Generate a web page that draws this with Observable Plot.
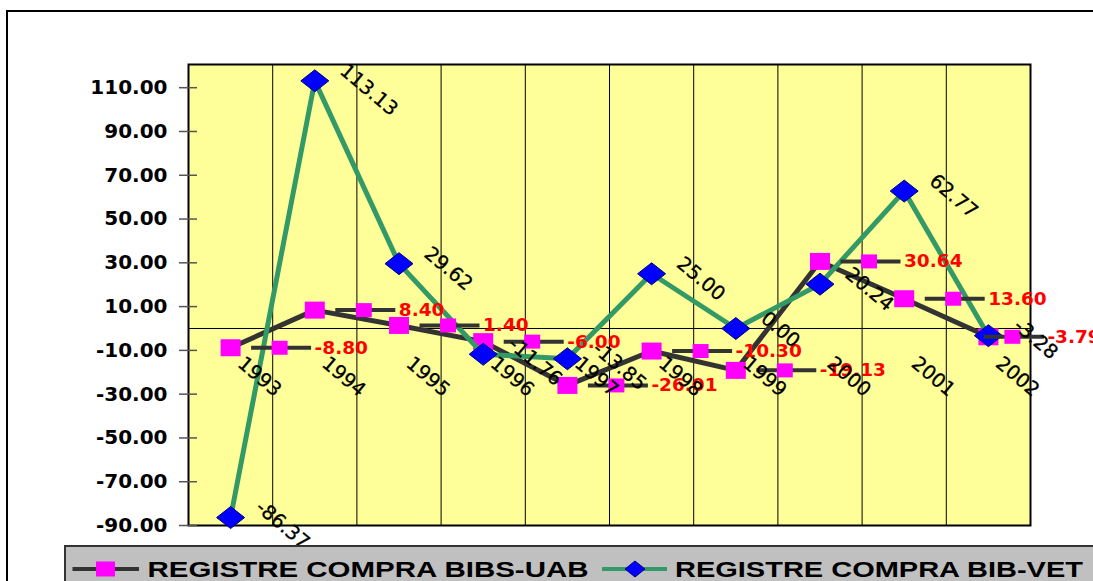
<!DOCTYPE html>
<html><head><meta charset="utf-8">
<script src="https://cdn.jsdelivr.net/npm/d3@7"></script>
<script src="https://cdn.jsdelivr.net/npm/@observablehq/plot@0.6"></script>
<style>
html,body{margin:0;padding:0;background:#fff;overflow:hidden;}
#wrap{position:relative;width:1093px;height:581px;overflow:hidden;}
#border{position:absolute;left:6px;top:10px;width:1200px;height:700px;border:2px solid #000;box-sizing:border-box;}
#chart{position:absolute;left:0;top:0;}
#legend{position:absolute;left:64px;top:545px;width:1100px;height:60px;background:#C0C0C0;border:2px solid #333;box-sizing:border-box;}
</style></head><body>
<div id="wrap"><div id="border"></div><div id="chart"></div><div id="legend"></div></div>
<script>
const years = [1993, 1994, 1995, 1996, 1997, 1998, 1999, 2000, 2001, 2002];
const bibsUab = [-8.80, 8.40, 1.40, -6.00, -26.01, -10.30, -19.13, 30.64, 13.60, -3.79];
const bibVet = [-86.37, 113.13, 29.62, -11.76, -13.85, 25.00, 0.00, 20.24, 62.77, -3.28];
const yTicks = [-90, -70, -50, -30, -10, 10, 30, 50, 70, 90, 110];
const seriesNames = ["REGISTRE COMPRA BIBS-UAB", "REGISTRE COMPRA BIB-VET"];

const uab = years.map((year, i) => ({year, value: bibsUab[i]}));
const vet = years.map((year, i) => ({year, value: bibVet[i]}));
const fmt = d => d.toFixed(2);
const lastYear = years[years.length - 1];
const notLast = d => d.year !== lastYear;
const isLast = d => d.year === lastYear;

const square = (w, h) => ({draw(ctx) { ctx.moveTo(-w/2, -h/2); ctx.lineTo(w/2, -h/2); ctx.lineTo(w/2, h/2); ctx.lineTo(-w/2, h/2); ctx.closePath(); }});
const diamond = (w, h) => ({draw(ctx) { ctx.moveTo(0, -h/2); ctx.lineTo(w/2, 0); ctx.lineTo(0, h/2); ctx.lineTo(-w/2, 0); ctx.closePath(); }});

// data-label with legend key (line + square + value), placed right of the point
const keyLabel = (filter, shift) => [
  Plot.ruleY(uab, {filter, y: "value", x1: "year", x2: "year", insetLeft: 21 + shift, insetRight: -81 - shift, stroke: "#333333", strokeWidth: 4}),
  Plot.dot(uab, {filter, x: "year", y: "value", dx: 49 + shift, symbol: square(16, 14), fill: "#FF00FF"}),
  Plot.text(uab, {filter, x: "year", y: "value", text: d => fmt(d.value), dx: 84 + shift, textAnchor: "start", fill: "#FF0000", fontWeight: "bold", fontSize: 18.5})
];

const plot = Plot.plot({
  width: 1093, height: 545,
  marginLeft: 188, marginRight: 63, marginTop: 64, marginBottom: 20,
  style: {fontFamily: "DejaVu Sans", background: "transparent", overflow: "visible"},
  x: {domain: [1992.5, 2002.5], axis: null},
  y: {domain: [-90, 120.6], ticks: yTicks, tickFormat: fmt},
  marks: [
    Plot.frame({fill: "#FFFF99"}),
    Plot.ruleX(years.slice(0, -1), {x: d => d + 0.5, stroke: "#000", strokeWidth: 1}),
    Plot.ruleY([0], {stroke: "#000", strokeWidth: 1}),
    Plot.frame({stroke: "#000", strokeWidth: 2}),
    Plot.axisY(yTicks, {tickSize: 0, tickPadding: 21, fontSize: 20, fontWeight: "bold", tickFormat: fmt, label: null, fill: "#000"}),
    Plot.ruleY(yTicks, {y: d => d, x1: 1992.5, x2: 1992.5, insetLeft: -9, insetRight: -9, stroke: "#555", strokeWidth: 1.5}),
    Plot.line(uab, {x: "year", y: "value", stroke: "#333333", strokeWidth: 5}),
    Plot.dot(uab, {x: "year", y: "value", symbol: square(20, 17), fill: "#FF00FF"}),
    Plot.line(vet, {x: "year", y: "value", stroke: "#339966", strokeWidth: 5}),
    Plot.dot(vet, {x: "year", y: "value", symbol: diamond(28, 22), fill: "#0000FF", stroke: "#000080", strokeWidth: 1}),
    ...keyLabel(notLast, 0),
    ...keyLabel(isLast, -25),
    Plot.text(vet, {x: "year", y: "value", text: d => fmt(d.value), dx: 24, dy: -8, rotate: 40, textAnchor: "start", lineAnchor: "bottom", fontSize: 19.5, fill: "#000", stroke: "#000", strokeWidth: 0.3}),
    Plot.text(years, {x: d => d, y: () => 0, text: d => String(d), dx: 6, dy: 37, rotate: 40, textAnchor: "start", lineAnchor: "bottom", fontSize: 19.5, fill: "#000", stroke: "#000", strokeWidth: 0.3})
  ]
});
document.getElementById("chart").appendChild(plot);

// legend
const leg = d3.select("#legend").append("svg")
  .attr("width", 1100).attr("height", 60)
  .style("position", "absolute").style("left", "-2px").style("top", "-2px");
const items = [
  {name: seriesNames[0], x0: 8.5, x1: 75, cx: 41.5, line: "#333333", sym: "square", tx: 83.5, tl: 441},
  {name: seriesNames[1], x0: 538, x1: 603, cx: 571, line: "#339966", sym: "diamond", tx: 611, tl: 408}
];
items.forEach(it => {
  leg.append("line").attr("x1", it.x0).attr("x2", it.x1).attr("y1", 24).attr("y2", 24)
    .attr("stroke", it.line).attr("stroke-width", 4);
  if (it.sym === "square") {
    leg.append("rect").attr("x", it.cx - 9.5).attr("y", 16.5).attr("width", 19).attr("height", 15).attr("fill", "#FF00FF");
  } else {
    leg.append("path").attr("d", `M${it.cx},16L${it.cx+10},24L${it.cx},32L${it.cx-10},24Z`).attr("fill", "#0000FF").attr("stroke", "#000080");
  }
  leg.append("text").attr("x", it.tx).attr("y", 32)
    .attr("font-family", "Liberation Sans, Arial, sans-serif").attr("font-weight", "bold").attr("font-size", 22)
    .attr("textLength", it.tl).attr("lengthAdjust", "spacingAndGlyphs")
    .text(it.name);
});
</script>
</body></html>
